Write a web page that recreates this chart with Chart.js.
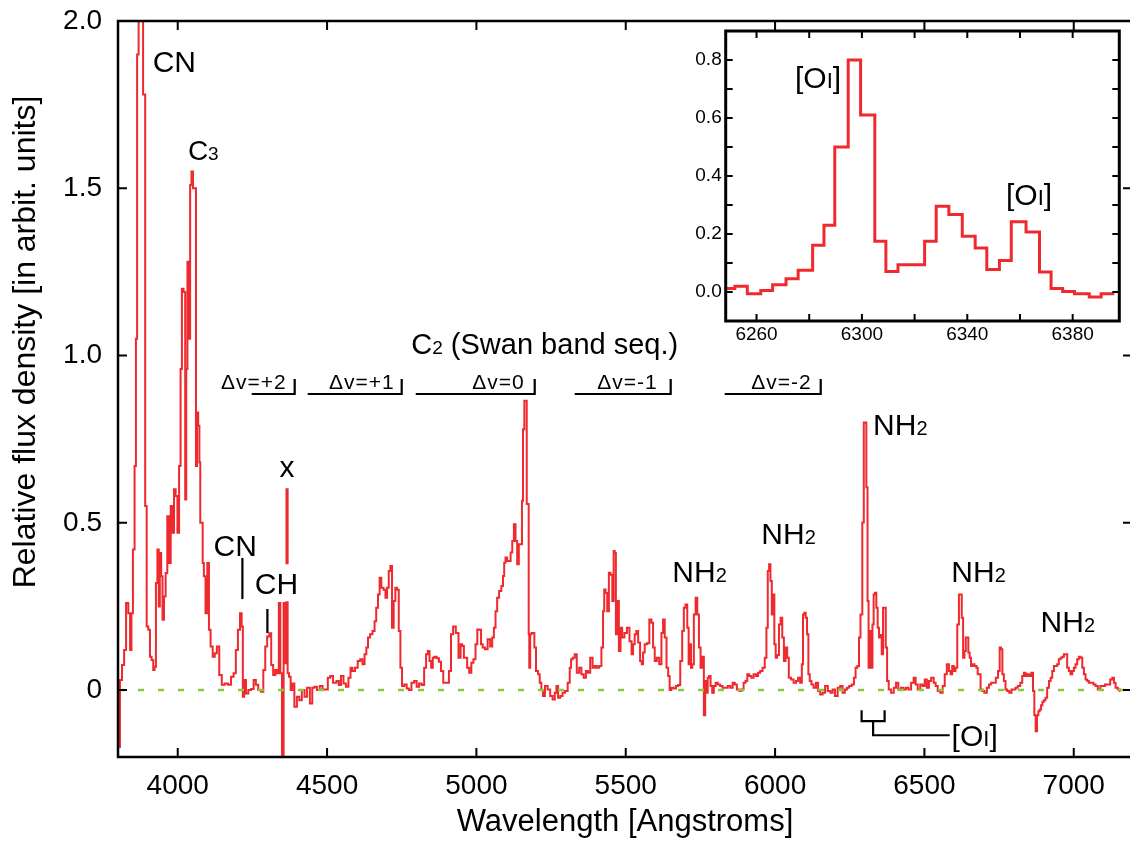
<!DOCTYPE html>
<html>
<head>
<meta charset="utf-8">
<script src="https://cdn.jsdelivr.net/npm/chart.js@4.4.1/dist/chart.umd.min.js"></script>
<style>
  html, body { margin: 0; padding: 0; overflow: hidden; background: #fff; }
  #wrap { position: relative; width: 1136px; height: 843px; }
  #main { position: absolute; left: 0; top: 0; }
  #inset { position: absolute; left: 670px; top: 20px; }
</style>
</head>
<body>
<div id="wrap">
  <canvas id="main" width="1136" height="843"></canvas>
  <canvas id="inset" width="460" height="340"></canvas>
</div>
<script>
// comet spectrum, relative flux vs wavelength (Angstrom)
const wavelength = [
  3804, 3809, 3818, 3823, 3831, 3838, 3843, 3847, 3853, 3858, 3862, 3866, 3872, 3880, 3888, 3894, 3898,
  3905, 3909, 3916, 3920, 3925, 3929, 3935, 3938, 3942, 3947, 3951, 3957, 3962, 3968, 3974, 3979, 3985,
  3990, 3996, 4002, 4007, 4012, 4016, 4023, 4027, 4030, 4035, 4039, 4044, 4048, 4054, 4059, 4063, 4066,
  4071, 4074, 4077, 4082, 4085, 4090, 4096, 4102, 4107, 4113, 4121, 4127, 4135, 4143, 4152, 4163, 4174,
  4183, 4191, 4198, 4205, 4212, 4216, 4220, 4225, 4232, 4241, 4250, 4258, 4265, 4274, 4283, 4290, 4296,
  4303, 4310, 4316, 4323, 4330, 4336, 4341, 4346, 4352, 4357, 4362, 4366, 4370,
  4375, 4381, 4386, 4395, 4403, 4411, 4420, 4429, 4437, 4448, 4453, 4462, 4470, 4481, 4489, 4498, 4507,
  4514, 4526, 4537, 4542, 4551, 4559, 4567, 4576, 4581, 4589, 4598, 4607, 4615, 4622, 4629, 4634, 4640,
  4648, 4656, 4662, 4667, 4674, 4678, 4685, 4693, 4698, 4704, 4709, 4715, 4720, 4726, 4731, 4737, 4743,
  4748, 4754, 4763, 4770, 4778, 4787, 4796, 4804, 4812, 4821, 4829, 4834, 4841, 4845, 4852, 4856, 4863,
  4871, 4878, 4885, 4893, 4904, 4912, 4918, 4926, 4936,
  4944, 4950, 4955, 4961, 4966, 4972, 4980, 4986, 4994, 5000, 5006, 5013, 5018, 5024, 5033, 5042, 5050,
  5056, 5061, 5067, 5072, 5080, 5087, 5091, 5095, 5100, 5106, 5112, 5117, 5123, 5128, 5134, 5139, 5145,
  5151, 5154, 5158, 5163, 5167, 5170, 5174, 5176, 5178, 5182, 5187, 5192, 5196, 5203, 5210, 5214, 5221,
  5225, 5234, 5243, 5251, 5259, 5266, 5270, 5277, 5285, 5292, 5301, 5310, 5315, 5319, 5326, 5332, 5340,
  5348, 5355, 5363, 5370, 5377, 5385, 5393, 5399, 5407, 5415, 5422, 5426, 5430, 5435, 5441, 5446, 5452,
  5458, 5461, 5465, 5469, 5474, 5480, 5485, 5491, 5500, 5508,
  5517, 5522, 5527, 5533, 5538, 5545, 5551, 5556, 5560, 5567, 5575, 5583, 5589, 5594, 5600, 5608, 5616,
  5623, 5627, 5634, 5639, 5645, 5649, 5656, 5664, 5672, 5679, 5686, 5692, 5697, 5703, 5709, 5712, 5716,
  5721, 5725, 5731, 5737, 5742, 5748, 5753, 5759, 5764, 5768, 5772, 5777, 5781, 5787, 5792, 5798, 5804,
  5812, 5820, 5828, 5837, 5846, 5854, 5862, 5868, 5876, 5884, 5891, 5898, 5904, 5910, 5917, 5924, 5932,
  5940, 5946, 5954, 5962, 5969, 5973, 5978, 5982, 5987, 5991, 5995, 6000, 6004, 6010, 6016, 6021, 6027,
  6032, 6038, 6043, 6049, 6058, 6066, 6074, 6080,
  6088, 6091, 6096, 6100, 6105, 6109, 6114, 6118, 6125, 6133, 6141, 6147, 6155, 6163, 6172, 6181, 6189,
  6196, 6205, 6214, 6222, 6230, 6237, 6244, 6252, 6261, 6267, 6272, 6279, 6283, 6289, 6295, 6299, 6303,
  6308, 6311, 6315, 6319, 6324, 6328, 6332, 6337, 6341, 6346, 6350, 6355, 6359, 6364, 6368, 6373, 6377,
  6384, 6393, 6402, 6408, 6417, 6426, 6434, 6442, 6451, 6460, 6468, 6473, 6482, 6490, 6498, 6504, 6512,
  6518, 6527, 6535, 6540, 6549, 6557, 6565, 6571, 6579, 6585, 6590, 6596, 6601, 6607, 6613,
  6618, 6623, 6627, 6632, 6636, 6641, 6645, 6649, 6654, 6658, 6663, 6672, 6676, 6681, 6685, 6691, 6696,
  6705, 6713, 6719, 6728, 6735, 6743, 6750, 6754, 6759, 6763, 6769, 6774, 6780, 6788, 6795, 6802, 6808,
  6817, 6825, 6830, 6836, 6841, 6847, 6855, 6861, 6866, 6870, 6875, 6879, 6884, 6888, 6893, 6897, 6903,
  6908, 6914, 6920, 6925, 6931, 6936, 6942, 6947, 6953, 6959, 6964, 6970, 6975, 6981, 6986, 6992, 6998,
  7003, 7009, 7014, 7020, 7026, 7031, 7037, 7042, 7048, 7053, 7062, 7070, 7076, 7085, 7093, 7100, 7109,
  7118, 7126, 7132, 7137, 7143, 7152, 7156
];
const flux = [
  -0.17, 0.03, 0.075, 0.12, 0.26, 0.23, 0.12, 0.23, 0.42, 0.67, 1.05, 1.90, 2.60, 2.80, 1.78, 0.55, 0.19,
  0.18, 0.10, 0.09, 0.06, 0.07, 0.32, 0.42, 0.25, 0.41, 0.34, 0.21, 0.28, 0.35, 0.52, 0.38, 0.55, 0.47,
  0.60, 0.58, 0.47, 0.67, 0.96, 1.20, 1.19, 0.57, 0.96, 1.28, 1.05, 1.51, 1.55, 1.50, 1.50, 0.67, 0.83,
  0.79, 0.68, 0.50, 0.50, 0.38, 0.34, 0.23, 0.38, 0.18, 0.13, 0.10, 0.11, 0.13, 0.045, 0.016, 0.02, 0.016,
  0.04, 0.05, 0.12, 0.18, 0.23, 0.19, -0.02, 0.03, -0.01, 0.0, 0.003, 0.03, 0.016, 0.0, -0.005, 0.06, 0.13,
  0.16, 0.17, 0.075, 0.045, 0.06, 0.05, 0.26, 0.05, -0.40, 0.26, 0.08, 0.60, 0.05,
  0.04, 0.0, 0.02, -0.05, -0.02, -0.03, 0.0, -0.02, 0.007, -0.04, 0.007, 0.01, 0.0, 0.012, 0.002, 0.002, 0.037,
  0.042, 0.022, 0.027, 0.015, 0.042, 0.02, 0.01, 0.037, 0.067, 0.057, 0.067, 0.087, 0.092, 0.077, 0.107, 0.127, 0.157,
  0.167, 0.177, 0.206, 0.246, 0.286, 0.336, 0.306, 0.30, 0.276, 0.306, 0.356, 0.371, 0.186, 0.266, 0.306, 0.30, 0.177,
  0.067, 0.012, 0.017, 0.005, 0.0, 0.022, 0.027, 0.01, 0.02, 0.015, 0.067, 0.107, 0.117, 0.087, 0.067, 0.097, 0.10,
  0.095, 0.085, 0.057, 0.022, 0.022, 0.057, 0.167, 0.19, 0.171,
  0.097, 0.137, 0.132, 0.097, 0.097, 0.067, 0.052, 0.082, 0.092, 0.137, 0.181, 0.18, 0.137, 0.127, 0.122, 0.152, 0.13,
  0.157, 0.186, 0.236, 0.276, 0.296, 0.311, 0.341, 0.381, 0.396, 0.386, 0.386, 0.411, 0.446, 0.496, 0.446, 0.376, 0.436,
  0.436, 0.566, 0.78, 0.865, 0.865, 0.556, 0.556, 0.167, 0.067, 0.167, 0.171, 0.171, 0.127, 0.057, 0.047, 0.022, 0.0,
  -0.018, 0.012, 0.002, -0.018, -0.028, -0.008, 0.012, -0.023, -0.018, -0.008, -0.003, 0.022, 0.067, 0.092, 0.097, 0.107, 0.052,
  0.067, 0.047, 0.037, 0.057, 0.052, 0.097, 0.067, 0.072, 0.067, 0.072, 0.127, 0.236, 0.301, 0.29, 0.236, 0.351, 0.345,
  0.266, 0.416, 0.41, 0.167, 0.266, 0.117, 0.186, 0.157, 0.171, 0.186,
  0.146, 0.107, 0.137, 0.167, 0.177, 0.142, 0.087, 0.077, 0.112, 0.137, 0.14, 0.211, 0.201, 0.127, 0.087, 0.097, 0.077,
  0.171, 0.211, 0.157, 0.067, 0.042, 0.0, 0.007, 0.005, 0.012, 0.015, 0.087, 0.177, 0.246, 0.256, 0.186, 0.077, 0.137,
  0.067, 0.077, 0.226, 0.276, 0.226, 0.127, 0.067, 0.10, -0.075, 0.027, -0.008, 0.037, 0.042, 0.012, -0.008, 0.012, 0.022,
  0.017, 0.012, 0.007, 0.007, 0.012, 0.007, 0.022, 0.017, 0.002, -0.003, 0.002, 0.022, 0.027, 0.047, 0.042, 0.037, 0.047,
  0.042, 0.052, 0.057, 0.067, 0.097, 0.186, 0.356, 0.376, 0.326, 0.226, 0.286, 0.137, 0.097, 0.105, 0.196, 0.216, 0.157,
  0.087, 0.127, 0.097, 0.037, 0.032, 0.022, 0.027, 0.037,
  0.022, 0.077, 0.226, 0.231, 0.216, 0.167, 0.047, 0.027, 0.017, 0.007, 0.022, -0.003, -0.013, -0.008, 0.012, -0.003, -0.008,
  0.002, -0.018, 0.007, 0.012, -0.008, 0.002, 0.007, 0.012, 0.017, 0.037, 0.067, 0.072, 0.157, 0.226, 0.501, 0.80, 0.80,
  0.606, 0.266, 0.067, 0.177, 0.067, 0.196, 0.286, 0.291, 0.246, 0.186, 0.157, 0.165, 0.107, 0.246, 0.246, 0.127, 0.027,
  0.002, -0.008, 0.007, 0.022, 0.002, 0.007, 0.002, 0.007, 0.002, 0.022, 0.037, 0.017, 0.002, 0.017, 0.012, 0.032, 0.007,
  0.027, 0.037, 0.022, 0.012, -0.003, -0.008, 0.012, 0.047, 0.077, 0.057, 0.047, 0.072, 0.057, 0.067, 0.196,
  0.286, 0.286, 0.216, 0.097, 0.117, 0.157, 0.157, 0.112, 0.097, 0.072, 0.077, 0.072, 0.067, 0.047, 0.047, 0.002, -0.003,
  -0.008, 0.007, 0.017, 0.022, 0.022, 0.037, 0.057, 0.127, 0.122, 0.047, 0.027, 0.002, -0.003, -0.008, 0.002, 0.002, 0.007,
  0.012, 0.022, 0.042, 0.052, 0.042, 0.047, 0.042, 0.052, -0.003, -0.075, -0.123, -0.075, -0.063, -0.058, -0.045, -0.035, -0.03,
  -0.023, 0.007, 0.027, 0.037, 0.057, 0.072, 0.072, 0.077, 0.092, 0.097, 0.10, 0.107, 0.107, 0.067, 0.057, 0.047, 0.057,
  0.067, 0.077, 0.092, 0.10, 0.097, 0.067, 0.047, 0.032, 0.027, 0.022, 0.022, 0.017, 0.012, 0.002, 0.012, 0.012, 0.017,
  0.017, 0.032, 0.037, 0.022, 0.007, 0.002, -0.003
];

// zero level
const zeroX = [3800, 7195];
const zeroY = [0, 0];

// inset: [OI] region, bin edges and bin values
const insetEdges = [
  6248.3, 6251.8, 6256.5, 6261.6, 6266.1, 6271.2, 6275.8, 6281.3, 6285.6, 6289.7, 6294.8, 6299.5,
  6304.9, 6309.1, 6313.7, 6318.8, 6323.8, 6328.2, 6333.0, 6338.1, 6343.0, 6347.4, 6352.2, 6356.7,
  6362.3, 6367.4, 6371.8, 6376.2, 6380.7, 6386.3, 6390.8, 6395.8
];
const insetFlux = [
  0.012, 0.02, -0.006, 0.005, 0.025, 0.046, 0.075, 0.161, 0.23, 0.50, 0.80, 0.61,
  0.175, 0.071, 0.094, 0.094, 0.175, 0.296, 0.267, 0.192, 0.152, 0.078, 0.109, 0.242,
  0.207, 0.069, 0.012, 0.002, -0.006, -0.017, -0.006, -0.006
];

const mainXTicks = [4000, 4500, 5000, 5500, 6000, 6500, 7000];
const mainXLabels = ['4000', '4500', '5000', '5500', '6000', '6500', '7000'];
const mainYTicks = [0, 0.5, 1.0, 1.5, 2.0];
const mainYLabels = ['0', '0.5', '1.0', '1.5', '2.0'];
const insetXTicks = [6260, 6280, 6300, 6320, 6340, 6360, 6380];
const insetXLabels = ['6260', '', '6300', '', '6340', '', '6380'];
const insetYTicks = [0, 0.1, 0.2, 0.3, 0.4, 0.5, 0.6, 0.7, 0.8];
const insetYLabels = ['0.0', '', '0.2', '', '0.4', '', '0.6', '', '0.8'];

const FONT = '"Liberation Sans", Arial, Helvetica, sans-serif';
const RED = '#ee2a2f';
const GREEN = '#8cc63f';

// box around the plot with inward tick marks on all four sides
const frameTicks = {
  id: 'frameTicks',
  beforeDatasetsDraw(chart, args, opts) {
    if (!opts.fill) return;
    const a = chart.chartArea;
    chart.ctx.save();
    chart.ctx.fillStyle = opts.fill;
    chart.ctx.fillRect(a.left, a.top, a.width, a.height);
    chart.ctx.restore();
  },
  afterDraw(chart, args, opts) {
    const { ctx, chartArea: a, scales } = chart;
    const len = opts.len;
    ctx.save();
    ctx.strokeStyle = '#000';
    ctx.lineWidth = opts.tickWidth;
    ctx.beginPath();
    scales.x.ticks.forEach(t => {
      const px = scales.x.getPixelForValue(t.value);
      ctx.moveTo(px, a.bottom); ctx.lineTo(px, a.bottom - len);
      ctx.moveTo(px, a.top); ctx.lineTo(px, a.top + len);
    });
    scales.y.ticks.forEach(t => {
      const py = scales.y.getPixelForValue(t.value);
      ctx.moveTo(a.left, py); ctx.lineTo(a.left + len, py);
      ctx.moveTo(a.right, py); ctx.lineTo(a.right - len, py);
    });
    ctx.stroke();
    ctx.lineWidth = opts.frameWidth;
    ctx.strokeRect(a.left, a.top, a.width, a.height);
    if (opts.yTitle) {
      const t = opts.yTitle;
      ctx.fillStyle = '#000';
      ctx.font = t.size + 'px ' + FONT;
      ctx.textAlign = 'center';
      ctx.textBaseline = 'alphabetic';
      ctx.translate(t.x, t.y);
      ctx.rotate(-Math.PI / 2);
      ctx.fillText(t.text, 0, 0);
    }
    ctx.restore();
  }
};

// labels and marker lines, placed in data units
const notes = {
  id: 'notes',
  afterDatasetsDraw(chart, args, opts) {
    const { ctx, scales: { x, y } } = chart;
    ctx.save();
    ctx.strokeStyle = '#000';
    ctx.lineWidth = opts.lineWidth || 2.2;
    (opts.lines || []).forEach(pts => {
      ctx.beginPath();
      pts.forEach(([lx, ly], i) => {
        const px = x.getPixelForValue(lx), py = y.getPixelForValue(ly);
        if (i) ctx.lineTo(px, py); else ctx.moveTo(px, py);
      });
      ctx.stroke();
    });
    ctx.textBaseline = 'alphabetic';
    (opts.texts || []).forEach(t => {
      ctx.letterSpacing = t.spacing || '0px';
      let w = 0;
      t.parts.forEach(([s, size]) => {
        ctx.font = size + 'px ' + FONT;
        w += ctx.measureText(s).width;
      });
      let px = x.getPixelForValue(t.x);
      const py = y.getPixelForValue(t.y);
      if (t.align === 'right') px -= w;
      if (t.box) {
        ctx.fillStyle = '#fff';
        ctx.fillRect(px - 2, py - 30, w + 4, 37);
      }
      ctx.fillStyle = '#000';
      t.parts.forEach(([s, size]) => {
        ctx.font = size + 'px ' + FONT;
        ctx.fillText(s, px, py);
        px += ctx.measureText(s).width;
      });
    });
    ctx.restore();
  }
};

const dv = (label, right) => ({ x: right, y: 0.901, align: 'right', spacing: '1px', parts: [[label, 21]] });
const bracket = (from, to) => [[from, 0.885], [to, 0.885], [to, 0.930]];
const noPad = s => { s.paddingTop = 0; s.paddingBottom = 0; s.paddingLeft = 0; s.paddingRight = 0; };

new Chart(document.getElementById('main'), {
  type: 'line',
  data: {
    datasets: [
      {
        data: zeroX.map((v, i) => ({ x: v, y: zeroY[i] })),
        borderColor: GREEN,
        borderWidth: 2.5,
        borderDash: [6, 14],
        pointRadius: 0
      },
      {
        data: wavelength.map((v, i) => ({ x: v, y: flux[i] })),
        borderColor: RED,
        borderWidth: 2,
        stepped: 'middle',
        pointRadius: 0
      }
    ]
  },
  options: {
    responsive: false,
    animation: false,
    devicePixelRatio: 1,
    layout: { padding: { top: 21, right: 4, left: 0, bottom: 0 } },
    plugins: {
      legend: { display: false },
      tooltip: { enabled: false },
      frameTicks: {
        len: 9, tickWidth: 2, frameWidth: 2.5,
        yTitle: { text: 'Relative flux density [in arbit. units]', size: 32, x: 35, y: 342 }
      },
      notes: {
        lineWidth: 2.2,
        lines: [
          [[4216.5, 0.395], [4216.5, 0.272]],
          [[4300.2, 0.2425], [4300.2, 0.1707]],
          bracket(4247.7, 4391.6),
          bracket(4435.2, 4749.9),
          bracket(4796.8, 5195.2),
          bracket(5329.1, 5650.5),
          bracket(5831.3, 6152.8),
          [[6289.7, -0.060], [6289.7, -0.093], [6366.7, -0.093], [6366.7, -0.060]],
          [[6328.2, -0.093], [6328.2, -0.135], [6584.7, -0.135]]
        ],
        texts: [
          { x: 3916, y: 1.848, parts: [['CN', 30]] },
          { x: 4034, y: 1.584, parts: [['C', 28], ['3', 19]] },
          { x: 4120, y: 0.401, parts: [['CN', 30]] },
          { x: 4258, y: 0.2865, box: true, parts: [['CH', 30]] },
          { x: 4341, y: 0.636, parts: [['x', 30]] },
          { x: 4782, y: 1.005, parts: [['C', 29], ['2', 19], [' (Swan band seq.)', 29]] },
          dv('\u0394v=+2', 4364.8),
          dv('\u0394v=+1', 4726.4),
          dv('\u0394v=0', 5161.6),
          dv('\u0394v=-1', 5607),
          dv('\u0394v=-2', 6122.7),
          { x: 5656, y: 0.324, parts: [['NH', 30], ['2', 20]] },
          { x: 5954, y: 0.438, parts: [['NH', 30], ['2', 20]] },
          { x: 6328, y: 0.763, parts: [['NH', 30], ['2', 20]] },
          { x: 6590, y: 0.324, parts: [['NH', 30], ['2', 20]] },
          { x: 6889, y: 0.174, parts: [['NH', 30], ['2', 20]] },
          { x: 6591, y: -0.168, parts: [['[O', 30], ['I', 22], [']', 30]] }
        ]
      }
    },
    scales: {
      x: {
        type: 'linear',
        min: 3800,
        max: 7195,
        afterBuildTicks: s => { s.ticks = mainXTicks.map(v => ({ value: v })); },
        afterFit: s => { s.height = 86; noPad(s); },
        grid: { display: false, drawTicks: false },
        border: { display: false },
        ticks: {
          color: '#000', font: { family: FONT, size: 28 }, padding: 12,
          maxRotation: 0, autoSkip: false,
          callback: (v, i) => mainXLabels[i]
        },
        title: {
          display: true, text: 'Wavelength [Angstroms]', color: '#000',
          font: { family: FONT, size: 31 }, padding: { top: 0, bottom: 2 }
        }
      },
      y: {
        type: 'linear',
        min: -0.2,
        max: 2.0,
        afterBuildTicks: s => { s.ticks = mainYTicks.map(v => ({ value: v })); },
        afterFit: s => { s.width = 118; noPad(s); },
        grid: { display: false, drawTicks: false },
        border: { display: false },
        ticks: {
          color: '#000', font: { family: FONT, size: 28 }, padding: 16, autoSkip: false,
          callback: (v, i) => mainYLabels[i]
        }
      }
    }
  },
  plugins: [frameTicks, notes]
});

new Chart(document.getElementById('inset'), {
  type: 'line',
  data: {
    datasets: [{
      data: insetEdges.map((v, i) => ({ x: v, y: insetFlux[i] })),
      borderColor: RED,
      borderWidth: 3,
      stepped: 'before',
      pointRadius: 0
    }]
  },
  options: {
    responsive: false,
    animation: false,
    devicePixelRatio: 1,
    layout: { padding: { top: 11, right: 10.7, left: 0, bottom: 0 } },
    plugins: {
      legend: { display: false },
      tooltip: { enabled: false },
      frameTicks: { len: 7, tickWidth: 2, frameWidth: 3, fill: '#fff' },
      notes: {
        texts: [
          { x: 6274.6, y: 0.702, parts: [['[O', 30], ['I', 22], [']', 30]] },
          { x: 6354.7, y: 0.300, parts: [['[O', 30], ['I', 22], [']', 30]] }
        ]
      }
    },
    scales: {
      x: {
        type: 'linear',
        min: 6248.3,
        max: 6397.7,
        afterBuildTicks: s => { s.ticks = insetXTicks.map(v => ({ value: v })); },
        afterFit: s => { s.height = 39; noPad(s); },
        grid: { display: false, drawTicks: false },
        border: { display: false },
        ticks: {
          color: '#000', font: { family: FONT, size: 19 }, padding: 2,
          maxRotation: 0, autoSkip: false,
          callback: (v, i) => insetXLabels[i]
        }
      },
      y: {
        type: 'linear',
        min: -0.1,
        max: 0.9,
        afterBuildTicks: s => { s.ticks = insetYTicks.map(v => ({ value: v })); },
        afterFit: s => { s.width = 55.7; noPad(s); },
        grid: { display: false, drawTicks: false },
        border: { display: false },
        ticks: {
          color: '#000', font: { family: FONT, size: 19 }, padding: 4, autoSkip: false,
          callback: (v, i) => insetYLabels[i]
        }
      }
    }
  },
  plugins: [frameTicks, notes]
});
</script>
</body>
</html>
